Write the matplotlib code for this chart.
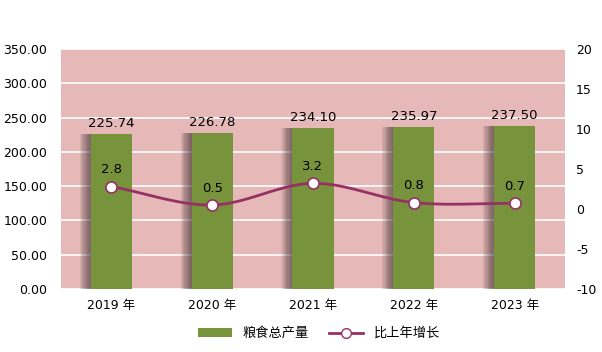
import matplotlib.pyplot as plt
import numpy as np

plt.rcParams['font.family'] = ['DejaVu Sans', 'Noto Sans CJK SC']
plt.rcParams['axes.unicode_minus'] = False

years = ['2019 年', '2020 年', '2021 年', '2022 年', '2023 年']
output = [225.74, 226.78, 234.10, 235.97, 237.50]
growth = [2.8, 0.5, 3.2, 0.8, 0.7]

bar_color = '#77933C'
line_color = '#953163'
bg_color = '#E6B9B8'

def catmull(xs, ys, n=30):
    # smooth curve through the points, like the spreadsheet "smoothed line"
    xs = np.asarray(xs, float); ys = np.asarray(ys, float)
    px = np.concatenate([[2*xs[0]-xs[1]], xs, [2*xs[-1]-xs[-2]]])
    py = np.concatenate([[2*ys[0]-ys[1]], ys, [2*ys[-1]-ys[-2]]])
    ox, oy = [], []
    for i in range(1, len(px)-2):
        t = np.linspace(0, 1, n)
        for p, o in ((px, ox), (py, oy)):
            p0, p1, p2, p3 = p[i-1], p[i], p[i+1], p[i+2]
            o.extend(0.5*((2*p1) + (-p0+p2)*t + (2*p0-5*p1+4*p2-p3)*t**2
                          + (-p0+3*p1-3*p2+p3)*t**3))
    return np.array(ox), np.array(oy)

fig = plt.figure(figsize=(6.02, 3.52), dpi=100)
ax = fig.add_axes([0.1013, 0.179, 0.8372, 0.682])
ax.set_facecolor(bg_color)
x = np.arange(len(years))
w = 0.41

ax.set_ylim(0, 350)
ax.set_xlim(-0.5, 4.5)
ax.set_yticks(np.arange(0, 351, 50))
ax.set_yticklabels(['%.2f' % v for v in np.arange(0, 351, 50)])
ax.grid(axis='y', color='white', lw=1.2)
ax.set_axisbelow(True)

# soft shadow on the left of the bars
for k in range(9):
    off = 0.012 * (k + 1)
    ax.bar(x - off, output, w, color='#3a2a30', alpha=0.09, lw=0, zorder=2)
ax.bar(x, output, w, color=bar_color, zorder=3, label='粮食总产量')
for xi, v in zip(x, output):
    ax.text(xi, v + 6, '%.2f' % v, ha='center', va='bottom', fontsize=9.5, zorder=6)

for s in ax.spines.values():
    s.set_visible(False)
ax.tick_params(axis='y', length=0, labelsize=9, pad=10)
ax.tick_params(axis='x', length=0, labelsize=9, pad=7)
ax.set_xticks(x)
ax.set_xticklabels(years)

ax2 = ax.twinx()
ax2.set_ylim(-10, 20)
ax2.set_yticks(np.arange(-10, 21, 5))
for s in ax2.spines.values():
    s.set_visible(False)
ax2.tick_params(axis='y', length=0, labelsize=9, pad=8)
sx, sy = catmull(x, growth)
ax2.plot(sx, sy, color=line_color, lw=2, zorder=4)
ax2.plot(x, growth, 'o', color=line_color, mfc='white', mec=line_color, ms=8, mew=1.2, zorder=5)
for xi, v in zip(x, growth):
    ax2.text(xi, v + 1.3, '%.1f' % v, ha='center', va='bottom', fontsize=9.5)

ax2.plot([], [], color=line_color, lw=2, marker='o', mfc='white', mec=line_color, ms=7,
         label='比上年增长')
h1, l1 = ax.get_legend_handles_labels()
h2, l2 = ax2.get_legend_handles_labels()
fig.legend(h1 + h2, l1 + l2, loc='lower center', bbox_to_anchor=(0.53, 0.0), ncol=2,
           frameon=False, fontsize=9.5, handlelength=2.6, columnspacing=1.5)

fig.savefig('out.png', dpi=100)
